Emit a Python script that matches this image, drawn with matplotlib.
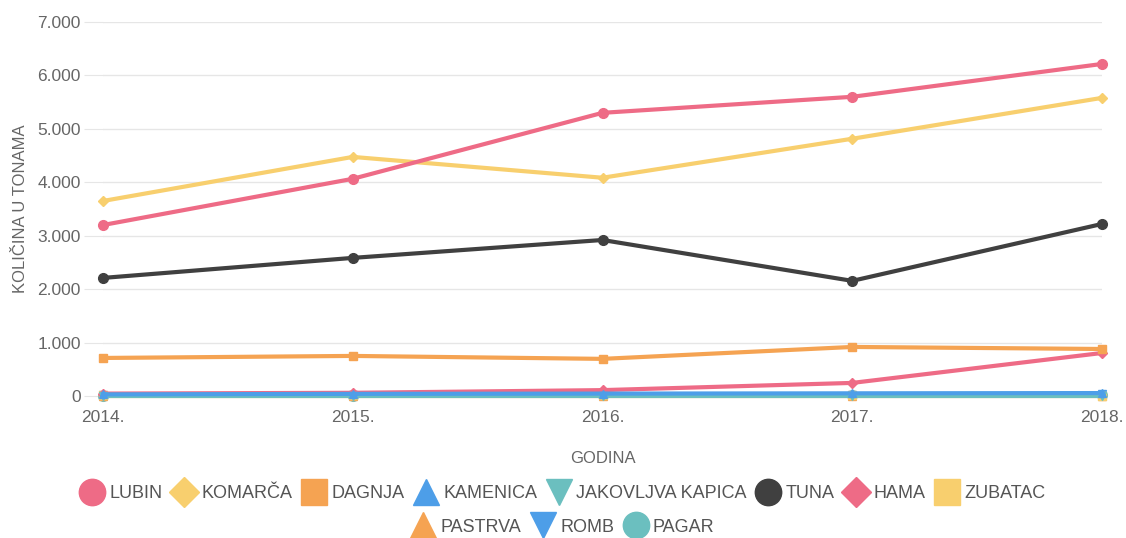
import matplotlib.pyplot as plt
from matplotlib.lines import Line2D
from matplotlib.ticker import FuncFormatter

plt.rcParams['font.family'] = ['Liberation Sans', 'DejaVu Sans']

godine = ['2014.', '2015.', '2016.', '2017.', '2018.']

lubin = [3200, 4065, 5300, 5600, 6215]
komarca = [3650, 4475, 4085, 4815, 5580]
dagnja = [712, 750, 695, 918, 880]
kamenica = [30, 40, 45, 50, 55]
jakovljva_kapica = [5, 5, 5, 5, 5]
tuna = [2210, 2585, 2920, 2155, 3220]
hama = [45, 60, 110, 245, 805]
zubatac = [10, 10, 10, 10, 5]
pastrva = [5, 5, 5, 5, 5]
romb = [15, 20, 20, 25, 30]
pagar = [8, 8, 10, 10, 10]

nazivi = ['LUBIN', 'KOMARČA', 'DAGNJA', 'KAMENICA', 'JAKOVLJVA KAPICA', 'TUNA',
          'HAMA', 'ZUBATAC', 'PASTRVA', 'ROMB', 'PAGAR']
serije = [lubin, komarca, dagnja, kamenica, jakovljva_kapica, tuna,
          hama, zubatac, pastrva, romb, pagar]
boje = ['#ee6b86', '#f8cf6e', '#f5a352', '#4d9ee8', '#6bbfbf', '#404040',
        '#ee6b86', '#f8cf6e', '#f5a352', '#4d9ee8', '#6bbfbf']
markeri = ['o', 'D', 's', '^', 'v', 'o', 'D', 's', '^', 'v', 'o']

fig = plt.figure(figsize=(11.26, 5.38), dpi=100)
ax = fig.add_axes([103 / 1126, 1 - 396 / 538, 999 / 1126, 374 / 538])

x = range(len(godine))
for i, (ime, vr) in enumerate(zip(nazivi, serije)):
    ms = 7
    if markeri[i] == 'D':
        ms = 5
    elif markeri[i] == 's':
        ms = 5.5
    elif markeri[i] in ('^', 'v'):
        ms = 6
    ax.plot(x, vr, color=boje[i], lw=3, marker=markeri[i], ms=ms,
            zorder=20 - i, clip_on=False)

ax.set_xlim(0, 4)
ax.set_ylim(0, 7000)
ax.set_yticks(range(0, 7001, 1000))
ax.yaxis.set_major_formatter(FuncFormatter(lambda v, p: '{:,.0f}'.format(v).replace(',', '.')))
ax.set_xticks(list(x))
ax.set_xticklabels(godine)
ax.grid(axis='y', color='#e6e6e6', lw=1)
ax.set_axisbelow(True)
for s in ax.spines.values():
    s.set_visible(False)
ax.tick_params(axis='y', length=14, color='#e6e6e6', labelcolor='#666666', labelsize=12.5, pad=2)
ax.tick_params(axis='x', length=0, labelcolor='#666666', labelsize=12.5, pad=10)
ax.set_ylabel('KOLIČINA U TONAMA', color='#666666', fontsize=12, labelpad=7)
ax.set_xlabel('GODINA', color='#666666', fontsize=12, labelpad=19)

def rucka(i):
    return Line2D([], [], ls='none', marker=markeri[i], color=boje[i],
                  ms=19 if markeri[i] != 'D' else 15)

leg1 = fig.legend([rucka(i) for i in range(8)], nazivi[:8], loc='center',
                  bbox_to_anchor=(0.5, 1 - 494 / 538), ncol=8, frameon=False,
                  fontsize=13, handlelength=1.3, handletextpad=0.3, columnspacing=0.55,
                  labelcolor='#555555')
leg2 = fig.legend([rucka(i) for i in range(8, 11)], nazivi[8:], loc='center',
                  bbox_to_anchor=(0.5, 1 - 527 / 538), ncol=3, frameon=False,
                  fontsize=13, handlelength=1.3, handletextpad=0.3, columnspacing=0.55,
                  labelcolor='#555555')

fig.savefig('out.png', dpi=100)
